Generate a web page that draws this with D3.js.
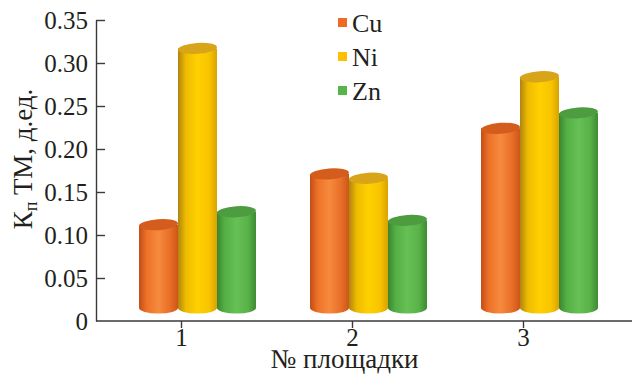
<!DOCTYPE html>
<html>
<head>
<meta charset="utf-8">
<script src="https://cdn.jsdelivr.net/npm/d3@7"></script>
<style>
  html, body { margin: 0; padding: 0; background: #fff; }
  svg { display: block; font-family: "Liberation Serif", "Times New Roman", serif; }
</style>
</head>
<body>
<div id="chart"></div>
<script>
// Data
const categories = ["1", "2", "3"]
const series = ["Cu", "Ni", "Zn"]
const cuValues = [0.112, 0.171, 0.224]
const niValues = [0.317, 0.166, 0.284]
const znValues = [0.127, 0.117, 0.242]
const yTicks = [0, 0.05, 0.10, 0.15, 0.20, 0.25, 0.30, 0.35]

const FONT = "'Liberation Serif', 'Times New Roman', serif"

const COLORS = {
  Cu: { stops: ["#c24c16", "#ee7228", "#f58a3e", "#e86e26", "#cc5618"], top: "#d45c1c", legend: "#ee6a25" },
  Ni: { stops: ["#b08410", "#eebb00", "#ffd000", "#f8c400", "#d9a200"], top: "#d8a41a", legend: "#fcc000" },
  Zn: { stops: ["#3a8530", "#55b044", "#66c055", "#58b247", "#3d8a33"], top: "#4e9c40", legend: "#55b548" },
}

const values = { Cu: cuValues, Ni: niValues, Zn: znValues }

const width = 632, height = 374
const axisX = 96, axisY = 321, topY = 20
const depthX = 16, depthY = 13

const svg = d3.select("#chart").append("svg")
  .attr("width", width).attr("height", height)

const defs = svg.append("defs")
series.forEach(s => {
  const grad = defs.append("linearGradient")
    .attr("id", "grad-" + s)
    .attr("x1", "0%").attr("x2", "100%").attr("y1", "0%").attr("y2", "0%")
  const offs = [0, 0.2, 0.5, 0.8, 1]
  COLORS[s].stops.forEach((c, i) => {
    grad.append("stop").attr("offset", offs[i]).attr("stop-color", c)
  })
})

const y = d3.scaleLinear().domain([0, 0.35]).range([axisY, topY])

const x0 = d3.scaleBand()
  .domain(categories)
  .range([axisX, 609])
  .paddingInner(0.316)
  .paddingOuter(0.158)

const x1 = d3.scaleBand()
  .domain(series)
  .range([0, x0.bandwidth()])

// Y axis (ticks pointing inward)
const yAxis = svg.append("g")
  .attr("transform", `translate(${axisX},0)`)
  .call(d3.axisLeft(y).tickValues(yTicks).tickSize(-9).tickSizeOuter(0).tickPadding(8)
    .tickFormat(d => d === 0 ? "0" : d3.format(".2f")(d)))
yAxis.attr("font-family", FONT)
yAxis.selectAll("text").attr("font-size", 25).attr("fill", "#231f20")
yAxis.selectAll(".domain, .tick line").attr("stroke", "#3a3a3a").attr("stroke-width", 1.4)
yAxis.selectAll(".tick").filter(d => d === 0).select("line").remove()

// X axis
const xAxis = svg.append("g")
  .attr("transform", `translate(0,${axisY})`)
  .call(d3.axisBottom(x0).tickSize(7).tickSizeOuter(0).tickPadding(0))
xAxis.attr("font-family", FONT)
xAxis.select(".domain").remove()
xAxis.append("line").attr("x1", axisX).attr("x2", width).attr("y1", 0).attr("y2", 0)
  .attr("stroke", "#3a3a3a").attr("stroke-width", 1.4)
xAxis.selectAll(".tick line").attr("stroke", "#3a3a3a").attr("stroke-width", 1.4)
xAxis.selectAll("text").attr("font-size", 25).attr("fill", "#231f20")

// Cylinders
const rx = x1.bandwidth() / 2, ry = 5.5
const bars = []
categories.forEach((c, ci) => {
  series.forEach(s => bars.push({ cat: c, series: s, value: values[s][ci] }))
})

const cyl = svg.append("g").selectAll(".bar")
  .data(bars)
  .enter().append("g").attr("class", "bar")

cyl.append("path")
  .attr("d", d => {
    const left = x0(d.cat) + x1(d.series) + depthX
    const right = left + x1.bandwidth()
    const yt = y(d.value)
    const yb = axisY - depthY
    return `M${left},${yt} L${left},${yb} A${rx},${ry} 0 0 0 ${right},${yb} L${right},${yt} Z`
  })
  .attr("fill", d => `url(#grad-${d.series})`)

cyl.append("ellipse")
  .attr("cx", d => x0(d.cat) + x1(d.series) + depthX + rx)
  .attr("cy", d => y(d.value))
  .attr("rx", rx).attr("ry", ry)
  .attr("transform", d => `rotate(-4,${x0(d.cat) + x1(d.series) + depthX + rx},${y(d.value)})`)
  .attr("fill", d => COLORS[d.series].top)

// Axis titles
const yLabel = svg.append("text")
  .attr("transform", "translate(32,159) rotate(-90)")
  .attr("text-anchor", "middle")
  .attr("font-size", 27).attr("fill", "#231f20")
yLabel.append("tspan").text("К")
yLabel.append("tspan").attr("font-size", 18).attr("dy", 5).text("п")
yLabel.append("tspan").attr("dy", -5).text(" ТМ, д.ед.")

svg.append("text")
  .attr("x", x0("2") + x0.bandwidth() / 2 - 8).attr("y", 368)
  .attr("text-anchor", "middle")
  .attr("font-size", 27).attr("fill", "#231f20")
  .text("№ площадки")

// Legend
const legend = svg.append("g").attr("transform", "translate(338,0)")
series.forEach((s, i) => {
  const lg = legend.append("g").attr("transform", `translate(0,${32 + i * 34})`)
  lg.append("rect").attr("x", 0).attr("y", -14).attr("width", 9).attr("height", 9)
    .attr("fill", COLORS[s].legend)
  lg.append("text").attr("x", 14).attr("y", 0)
    .attr("font-size", 26).attr("fill", "#231f20").text(s)
})
</script>
</body>
</html>
